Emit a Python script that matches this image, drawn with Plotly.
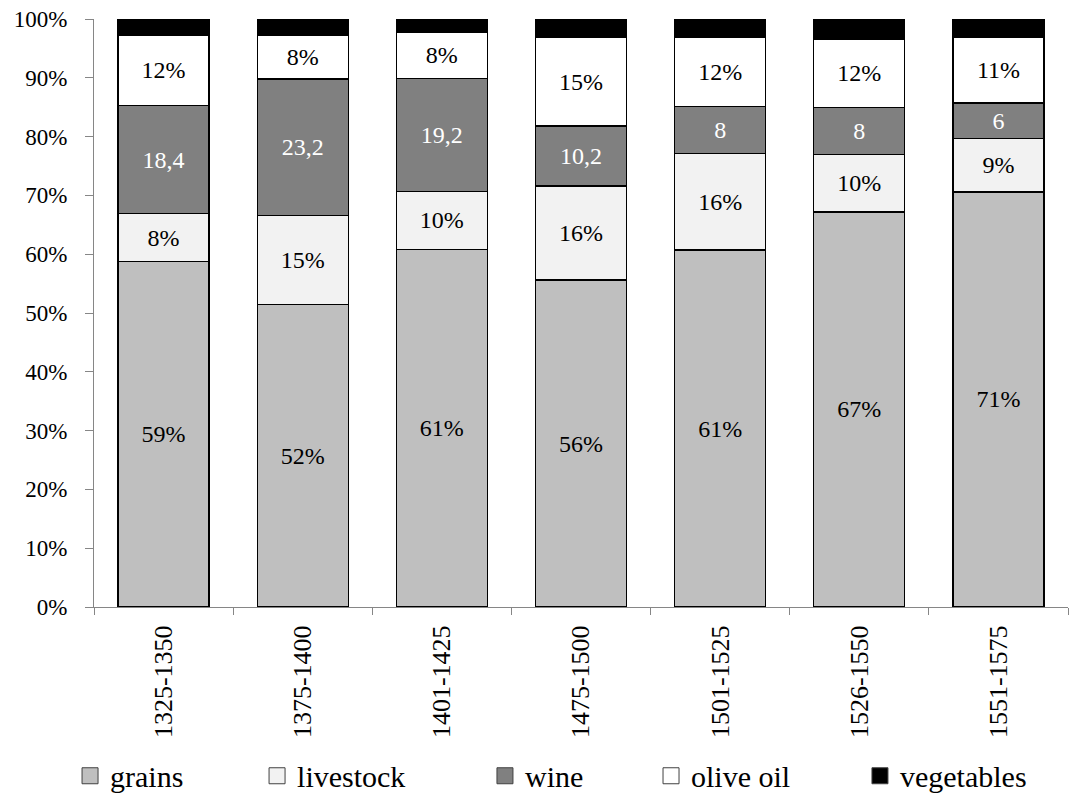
import plotly.graph_objects as go

periods = ["1325-1350", "1375-1400", "1401-1425", "1475-1500",
           "1501-1525", "1526-1550", "1551-1575"]

grains = [58.7, 51.5, 60.8, 55.6, 60.7, 67.2, 70.6]
livestock = [8.2, 15.1, 9.9, 16.0, 16.4, 9.8, 9.1]
wine = [18.4, 23.2, 19.2, 10.2, 8, 8, 6]
olive_oil = [11.9, 7.5, 7.8, 15.1, 11.8, 11.6, 11.2]
vegetables = [2.8, 2.7, 2.3, 3.1, 3.1, 3.4, 3.1]

FONT = "Liberation Serif"


def pct_labels(vals):
    return [f"{round(v)}%" for v in vals]


def comma_labels(vals):
    return [f"{v:g}".replace(".", ",") for v in vals]


series = [
    ("grains", grains, "#BFBFBF", pct_labels(grains), "black"),
    ("livestock", livestock, "#F2F2F2", pct_labels(livestock), "black"),
    ("wine", wine, "#808080", comma_labels(wine), "white"),
    ("olive oil", olive_oil, "#FFFFFF", pct_labels(olive_oil), "black"),
    ("vegetables", vegetables, "#000000", None, "black"),
]

# one single-entry legend per series so each entry can be placed on its own
legend_x = [-0.0246, 0.1674, 0.4014, 0.5719, 0.7864]

fig = go.Figure()
for i, (name, vals, color, labels, tcolor) in enumerate(series):
    fig.add_trace(go.Bar(
        x=periods, y=vals, name=name,
        marker=dict(color=color, line=dict(color="black", width=1.3)),
        text=labels,
        textposition="inside" if labels else "none",
        insidetextanchor="middle",
        textangle=0,
        constraintext="none",
        textfont=dict(family=FONT, size=24, color=tcolor),
        showlegend=False,
        hoverinfo="skip",
    ))

# legend keys: larger square swatches than the default bar key
for i, (name, vals, color, labels, tcolor) in enumerate(series):
    lg = "legend" if i == 0 else f"legend{i + 1}"
    fig.add_trace(go.Scatter(
        x=[None], y=[None], mode="markers", name=name,
        marker=dict(symbol="square", size=16, color=color,
                    line=dict(color="#404040", width=1)),
        legend=lg, hoverinfo="skip",
    ))

legend_common = dict(
    orientation="h", yanchor="middle", xanchor="left", y=-0.287,
    font=dict(family=FONT, size=30, color="black"),
    bgcolor="rgba(0,0,0,0)", borderwidth=0,
)
layout_legends = {}
for i, lx in enumerate(legend_x):
    key = "legend" if i == 0 else f"legend{i + 1}"
    layout_legends[key] = dict(x=lx, **legend_common)

fig.update_layout(
    barmode="stack",
    bargap=0.346,
    width=1081, height=800,
    margin=dict(l=94, r=13, t=19, b=193, autoexpand=False),
    plot_bgcolor="white", paper_bgcolor="white",
    font=dict(family=FONT, color="black"),
    showlegend=True,
    **layout_legends,
)

fig.update_yaxes(
    range=[0, 100], dtick=10, ticksuffix="%",
    showgrid=False, zeroline=False,
    showline=True, linecolor="#868686", linewidth=1,
    ticks="outside", ticklen=8, tickcolor="#868686", tickwidth=1,
    tickfont=dict(family=FONT, size=23, color="black"),
    ticklabelstandoff=13,
)
fig.update_xaxes(
    type="category",
    showgrid=False, zeroline=False,
    showline=True, linecolor="#868686", linewidth=1,
    ticks="outside", tickson="boundaries", ticklen=7,
    tickcolor="#868686", tickwidth=1,
    tickangle=-90,
    tickfont=dict(family=FONT, size=26, color="black"),
    ticklabelstandoff=7,
)

fig.write_html("out.html")
